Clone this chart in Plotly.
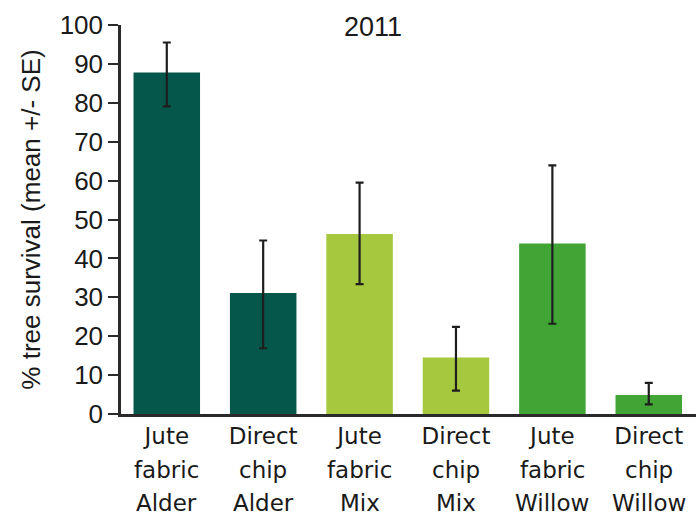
import plotly.graph_objects as go

# Tree survival, 2011: mean with +/- SE bounds
treatments = ["Jute fabric", "Direct chip", "Jute fabric", "Direct chip", "Jute fabric", "Direct chip"]
species = ["Alder", "Alder", "Mix", "Mix", "Willow", "Willow"]
survival_mean = [87.8, 31.1, 46.3, 14.5, 43.8, 4.9]
se_upper = [95.5, 44.6, 59.5, 22.4, 63.9, 8.0]
se_lower = [79.1, 16.9, 33.4, 6.0, 23.2, 2.5]
bar_colors = ["#04574A", "#04574A", "#A6C83F", "#A6C83F", "#40A535", "#40A535"]
y_ticks = [0, 10, 20, 30, 40, 50, 60, 70, 80, 90, 100]

x_pos = list(range(len(survival_mean)))
err_plus = [u - m for u, m in zip(se_upper, survival_mean)]
err_minus = [m - l for l, m in zip(se_lower, survival_mean)]
first_words = [t.split()[0] for t in treatments]
second_words = [t.split()[1] for t in treatments]

fig = go.Figure(
    go.Bar(
        x=x_pos,
        y=survival_mean,
        marker=dict(color=bar_colors, line=dict(width=0)),
        error_y=dict(
            type="data",
            symmetric=False,
            array=err_plus,
            arrayminus=err_minus,
            color="#1e1e1e",
            thickness=2.2,
            width=4,
        ),
        width=0.69,
    )
)

label_font = dict(family="DejaVu Sans, sans-serif", size=23, color="#1a1a1a")
helv_font = "Liberation Sans, Arial, sans-serif"

# second and third label rows beneath each category
for xi, word, sp in zip(x_pos, second_words, species):
    fig.add_annotation(
        x=xi, y=0, xref="x", yref="paper",
        text=word, showarrow=False,
        yanchor="middle", yshift=-56,
        font=label_font,
    )
    fig.add_annotation(
        x=xi, y=0, xref="x", yref="paper",
        text=sp, showarrow=False,
        yanchor="middle", yshift=-89,
        font=label_font,
    )

fig.update_layout(
    width=696,
    height=517,
    margin=dict(l=121, r=0, t=25, b=103),
    plot_bgcolor="white",
    paper_bgcolor="white",
    showlegend=False,
    title=dict(
        text="2011",
        x=0.536, xref="container", xanchor="center",
        y=1 - 27 / 517, yref="container", yanchor="middle",
        font=dict(family=helv_font, size=27, color="#1a1a1a"),
    ),
    xaxis=dict(
        range=[-0.475, 5.49],
        tickmode="array",
        tickvals=x_pos,
        ticktext=first_words,
        tickfont=label_font,
        showline=True,
        linecolor="#2a2a2a",
        linewidth=2.5,
        ticks="",
        showgrid=False,
        zeroline=False,
        fixedrange=True,
    ),
    yaxis=dict(
        range=[0, 100],
        tickmode="array",
        tickvals=y_ticks,
        tickfont=dict(family=helv_font, size=26, color="#1a1a1a"),
        ticks="outside",
        ticklen=10,
        tickwidth=2.2,
        tickcolor="#2a2a2a",
        showline=True,
        linecolor="#2a2a2a",
        linewidth=2.5,
        showgrid=False,
        zeroline=False,
        title=dict(
            text="% tree survival (mean +/- SE)",
            font=dict(family=helv_font, size=26, color="#1a1a1a"),
            standoff=12,
        ),
    ),
)

fig.write_html("out.html")
